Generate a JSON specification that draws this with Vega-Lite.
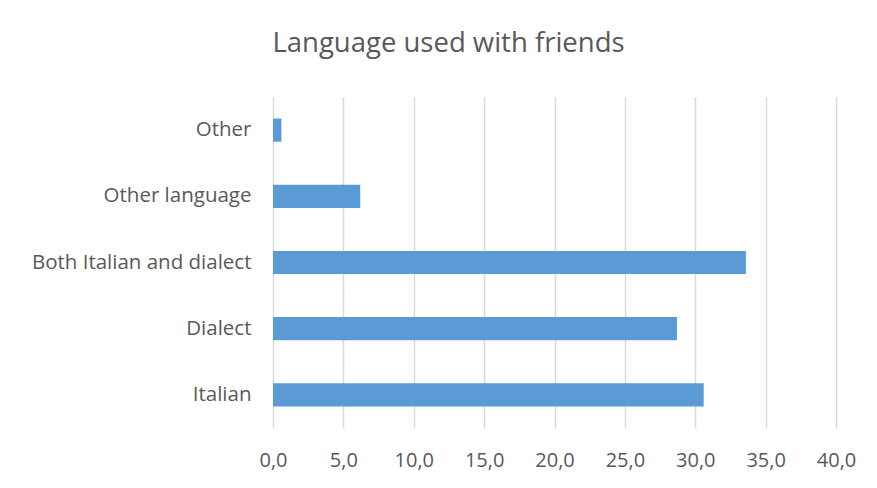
{
  "$schema": "https://vega.github.io/schema/vega-lite/v6.json",
  "width": 563,
  "height": 331,
  "autosize": {"type": "none"},
  "padding": {"left": 273, "top": 97, "right": 41, "bottom": 60},
  "background": "white",
  "title": {
    "text": "Language used with friends",
    "font": "Open Sans",
    "fontSize": 27.5,
    "fontWeight": "normal",
    "color": "#595959",
    "anchor": "middle",
    "dx": -106,
    "baseline": "bottom",
    "offset": 12
  },
  "data": {
    "values": [
      {"language": "Other", "value": 0.6},
      {"language": "Other language", "value": 6.2},
      {"language": "Both Italian and dialect", "value": 33.6},
      {"language": "Dialect", "value": 28.7},
      {"language": "Italian", "value": 30.6}
    ]
  },
  "mark": {"type": "bar", "color": "#5B9BD5"},
  "encoding": {
    "y": {
      "field": "language",
      "type": "nominal",
      "sort": null,
      "scale": {"paddingInner": 0.65, "paddingOuter": 0.325},
      "axis": {
        "title": null,
        "domain": false,
        "ticks": false,
        "labelFont": "Open Sans",
        "labelFontSize": 20.5,
        "labelColor": "#595959",
        "labelPadding": 22,
        "labelLimit": 400
      }
    },
    "x": {
      "field": "value",
      "type": "quantitative",
      "scale": {"domain": [0, 40]},
      "axis": {
        "title": null,
        "values": [0, 5, 10, 15, 20, 25, 30, 35, 40],
        "labelExpr": "replace(format(datum.value, '.1f'), '.', ',')",
        "domain": false,
        "ticks": false,
        "grid": true,
        "gridColor": "#d9d9d9",
        "gridWidth": 1.5,
        "labelFont": "Open Sans",
        "labelFontSize": 20,
        "labelColor": "#595959",
        "labelPadding": 22,
        "labelFlush": false,
        "labelOverlap": false,
        "labelBound": false
      }
    }
  },
  "config": {"view": {"stroke": null}}
}
